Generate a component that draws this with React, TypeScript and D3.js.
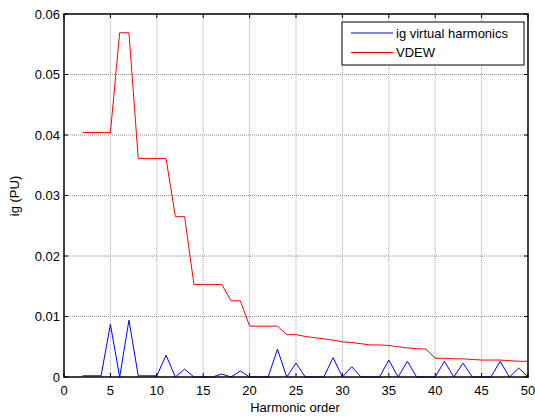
import React from "react";
import * as d3 from "d3";

const harmonicOrders: number[] = d3.range(2, 51);
const igVirtual: number[] = [
  0.0002, 0.0002, 0.0002, 0.0087, 0.0, 0.0094, 0.0002, 0.0002, 0.0002, 0.0036,
  0.0, 0.0013, 0.0, 0.0, 0.0, 0.0005, 0.0, 0.001, 0.0, 0.0, 0.0, 0.0046, 0.0,
  0.0023, 0.0, 0.0, 0.0, 0.0032, 0.0, 0.0017, 0.0, 0.0, 0.0, 0.0028, 0.0,
  0.0026, 0.0, 0.0, 0.0, 0.0026, 0.0, 0.0023, 0.0, 0.0, 0.0, 0.0026, 0.0,
  0.0015, 0.0,
];
const vdew: number[] = [
  0.0404, 0.0404, 0.0404, 0.0404, 0.0569, 0.0569, 0.0361, 0.0361, 0.0361,
  0.0361, 0.0265, 0.0265, 0.0153, 0.0153, 0.0153, 0.0153, 0.0126, 0.0126,
  0.0084, 0.0084, 0.0084, 0.0084, 0.007, 0.007, 0.0067, 0.0065, 0.0063,
  0.0061, 0.0058, 0.0057, 0.0055, 0.0053, 0.0053, 0.0052, 0.005, 0.0048,
  0.0047, 0.0046, 0.0031, 0.0031, 0.003, 0.003, 0.0029, 0.0028, 0.0028,
  0.0028, 0.0027, 0.0026, 0.0026,
];
const xTicks: number[] = d3.range(0, 51, 5);
const yTicks: number[] = [0, 0.01, 0.02, 0.03, 0.04, 0.05, 0.06];
const seriesNames: string[] = ["ig virtual harmonics", "VDEW"];
const seriesColors: string[] = ["#0000ff", "#ff0000"];

export default function App() {
  const W = 535;
  const H = 420;
  const left = 64;
  const right = 528;
  const top = 14;
  const bottom = 377;
  const fs = 13;
  const x = d3.scaleLinear().domain([0, 50]).range([left, right]);
  const y = d3.scaleLinear().domain([0, 0.06]).range([bottom, top]);
  const line = d3
    .line<number>()
    .x((_, i) => x(harmonicOrders[i]))
    .y((d) => y(d));
  const font = "'Liberation Sans', Arial, sans-serif";
  const series = [igVirtual, vdew];
  return (
    <svg
      width={W}
      height={H}
      style={{ position: "absolute", left: 0, top: 0, background: "#fff" }}
      fontFamily={font}
    >
      <rect x={0} y={0} width={W} height={H} fill="#fff" />
      <rect x={left} y={top} width={right - left} height={bottom - top} fill="#fff" />
      {xTicks.slice(1, -1).map((t) => (
        <line
          key={"gx" + t}
          x1={x(t)}
          x2={x(t)}
          y1={top}
          y2={bottom}
          stroke="#a8a8a8"
          strokeWidth={1}
          strokeDasharray="1,1"
        />
      ))}
      {yTicks.slice(1, -1).map((t) => (
        <line
          key={"gy" + t}
          x1={left}
          x2={right}
          y1={y(t)}
          y2={y(t)}
          stroke="#8a8a8a"
          strokeWidth={1}
          strokeDasharray="1,1"
        />
      ))}
      {series.map((s, i) => (
        <path
          key={"s" + i}
          d={line(s) || ""}
          fill="none"
          stroke={seriesColors[i]}
          strokeWidth={1}
        />
      ))}
      {xTicks.map((t) => (
        <g key={"tx" + t}>
          <line x1={x(t)} x2={x(t)} y1={bottom} y2={bottom - 4} stroke="#000" />
          <line x1={x(t)} x2={x(t)} y1={top} y2={top + 4} stroke="#000" />
          <text
            x={x(t)}
            y={bottom + 18}
            textAnchor="middle"
            fontSize={fs}
            fill="#000"
          >
            {t}
          </text>
        </g>
      ))}
      {yTicks.map((t) => (
        <g key={"ty" + t}>
          <line x1={left} x2={left + 4} y1={y(t)} y2={y(t)} stroke="#000" />
          <line x1={right} x2={right - 4} y1={y(t)} y2={y(t)} stroke="#000" />
          <text
            x={left - 4}
            y={y(t) + 4.5}
            textAnchor="end"
            fontSize={fs}
            fill="#000"
          >
            {t === 0 ? "0" : d3.format(".2f")(t)}
          </text>
        </g>
      ))}
      <rect
        x={left}
        y={top}
        width={right - left}
        height={bottom - top}
        fill="none"
        stroke="#000"
        strokeWidth={1.5}
      />
      <text x={295} y={412} textAnchor="middle" fontSize={fs} fill="#000">
        Harmonic order
      </text>
      <text
        transform={`translate(19, 196) rotate(-90)`}
        textAnchor="middle"
        fontSize={fs}
        fill="#000"
      >
        ig (PU)
      </text>
      <g>
        <rect x={342} y={22} width={182} height={43} fill="#fff" stroke="#000" strokeWidth={1} />
        {seriesNames.map((n, i) => (
          <g key={"lg" + i}>
            <line
              x1={351}
              x2={393}
              y1={33 + i * 19.5}
              y2={33 + i * 19.5}
              stroke={seriesColors[i]}
              strokeWidth={1}
            />
            <text x={396} y={33 + i * 19.5 + 4.5} fontSize={fs} fill="#000">
              {n}
            </text>
          </g>
        ))}
      </g>
    </svg>
  );
}
